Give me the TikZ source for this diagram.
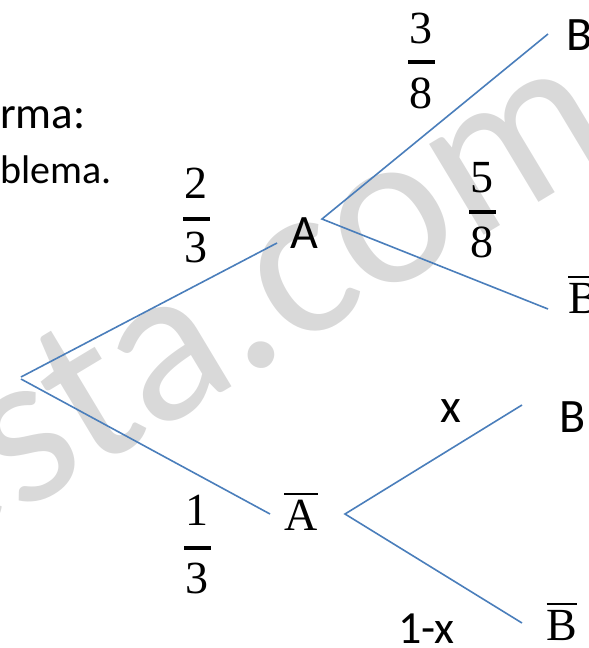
\documentclass[tikz,border=0pt]{standalone}
\usepackage{fontspec}
\setmainfont{Carlito}
\newfontfamily\mserif{Liberation Serif}
\definecolor{lineblue}{HTML}{4A7EBB}
\definecolor{wmgray}{HTML}{D9D9D9}
\newcommand\ovbar[1]{\vbox{\hrule height 2pt\kern 4.5pt\hbox{#1}}}
\tikzset{
  branch/.style={draw=lineblue, line width=1.6pt},
  lbl/.style={font=\fontsize{48}{48}\selectfont, inner sep=0pt, anchor=base},
  serlbl/.style={font=\fontsize{46}{46}\selectfont\mserif, inner sep=0pt, anchor=base},
  fracnum/.style={font=\fontsize{46}{46}\selectfont\mserif, inner sep=0pt, anchor=base},
  fracbar/.style={fill=black},
  wm/.style={font=\fontsize{222}{222}\selectfont, text=wmgray, inner sep=0pt, anchor=base west, rotate=31},
  toptext/.style={inner sep=0pt, anchor=base west},
}
\newcommand\pfrac[7]{%
  \node[fracnum] (#1n) at (#2,-#3) {#6};
  \node[fracnum] (#1d) at (#2,-#5) {#7};
  \fill[fracbar] (#2-13.5,-#4+1.6) rectangle (#2+13.5,-#4-1.6);
}
\begin{document}
\begin{tikzpicture}[x=1pt,y=1pt]
\useasboundingbox (0,0) rectangle (589,-648);
\clip (0,0) rectangle (589,-648);
% watermark
\node[wm] (wmark) at (18,-515) {\llap{e}sta.com};
% top-left text fragments
\node[toptext, font=\fontsize{45}{45}\selectfont] (t1) at (0,-128) {rma:};
\node[toptext, font=\fontsize{40}{40}\selectfont] (t2) at (0,-183) {blema.};
% branch points
\coordinate (root1) at (21,-377);
\coordinate (root2) at (21,-379);
\coordinate (Aend) at (277,-243);
\coordinate (Abend) at (270,-514);
\coordinate (Astart) at (322,-219);
\coordinate (ABend) at (548,-34);
\coordinate (ABbend) at (548,-309);
\coordinate (Abstart) at (345,-514);
\coordinate (AbBend) at (522,-405);
\coordinate (AbBbend) at (522,-623);
\draw[branch] (root1) -- (Aend);
\draw[branch] (root2) -- (Abend);
\draw[branch] (ABend) -- (Astart) -- (ABbend);
\draw[branch] (AbBend) -- (Abstart) -- (AbBbend);
% labels
\node[lbl] (A) at (304,-248) {A};
\node[lbl, anchor=base west] (B1) at (566,-50) {B};
\node[lbl] (B2) at (573,-432) {B};
\node[lbl] (x) at (451,-422) {x};
\node[lbl, anchor=base west, font=\fontsize{46}{46}\selectfont] (omx) at (398,-643) {1-x};
\node[serlbl] (Ab) at (301,-530) {\ovbar{A}};
\node[serlbl, anchor=base west] (Bb1) at (568,-313) {\ovbar{B}};
\node[serlbl] (Bb2) at (562,-640) {\ovbar{B}};
% fractions
\pfrac{f38}{421}{43}{62}{108}{3}{8}
\pfrac{f58}{482}{192}{212}{257}{5}{8}
\pfrac{f23}{196}{198}{219}{262}{2}{3}
\pfrac{f13}{197}{525}{548}{593}{1}{3}
\end{tikzpicture}
\end{document}
